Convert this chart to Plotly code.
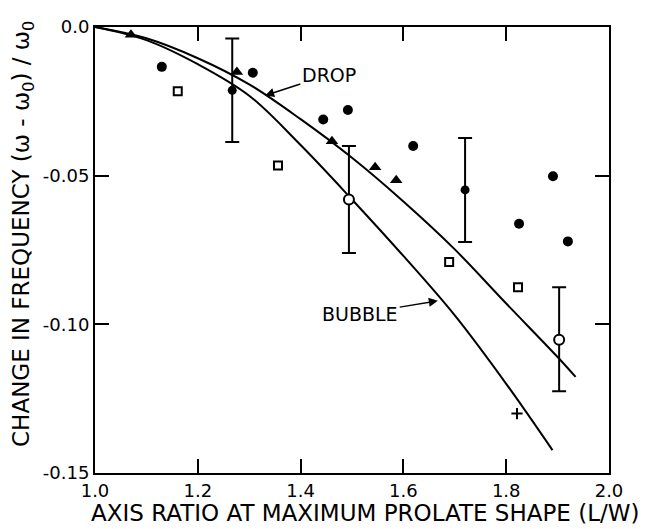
import plotly.graph_objects as go

# Theory curves
drop_x = [1.0, 1.1, 1.2, 1.3, 1.4, 1.5, 1.6, 1.7, 1.8, 1.9, 1.935]
drop_y = [0.0, -0.0038, -0.0105, -0.0193, -0.031, -0.044, -0.0587, -0.0748, -0.093, -0.111, -0.1177]
bubble_x = [1.0, 1.1, 1.2, 1.3, 1.4, 1.5, 1.6, 1.7, 1.8, 1.89]
bubble_y = [0.0, -0.0044, -0.0125, -0.0231, -0.0397, -0.058, -0.077, -0.097, -0.120, -0.1423]

# Data points
tri_x = [1.070, 1.276, 1.461, 1.545, 1.586]
tri_y = [-0.0026, -0.0151, -0.0384, -0.0472, -0.0515]
dot_x = [1.130, 1.307, 1.444, 1.492, 1.619, 1.891, 1.825, 1.920]
dot_y = [-0.0134, -0.0154, -0.0311, -0.0279, -0.040, -0.0502, -0.0662, -0.0721]
dot_err_x = [1.267, 1.720]
dot_err_y = [-0.0213, -0.0548]
dot_err_plus = [0.0174, 0.0175]
dot_err_minus = [0.0174, 0.0175]
sq_x = [1.161, 1.356, 1.689, 1.823]
sq_y = [-0.0216, -0.0466, -0.079, -0.0875]
ocirc_x = [1.494, 1.903]
ocirc_y = [-0.058, -0.1052]
ocirc_plus = [0.018, 0.0177]
ocirc_minus = [0.018, 0.0173]
plus_x = [1.821]
plus_y = [-0.130]

x_ticks = [1.0, 1.2, 1.4, 1.6, 1.8, 2.0]
x_ticklabels = ["1.0", "1.2", "1.4", "1.6", "1.8", "2.0"]
y_ticks = [0.0, -0.05, -0.10, -0.15]
y_ticklabels = ["0.0", "-0.05", "-0.10", "-0.15"]

FONT = "DejaVu Sans"
fig = go.Figure()

fig.add_trace(go.Scatter(x=drop_x, y=drop_y, mode="lines", line=dict(color="black", width=2, shape="spline")))
fig.add_trace(go.Scatter(x=bubble_x, y=bubble_y, mode="lines", line=dict(color="black", width=2, shape="spline")))

fig.add_trace(go.Scatter(x=dot_err_x, y=dot_err_y, mode="markers",
                         marker=dict(symbol="circle", size=9, color="black"),
                         error_y=dict(type="data", symmetric=False, array=dot_err_plus, arrayminus=dot_err_minus,
                                      color="black", thickness=2, width=7)))
fig.add_trace(go.Scatter(x=ocirc_x, y=ocirc_y, mode="markers",
                         marker=dict(symbol="circle", size=10, color="white", line=dict(color="black", width=2)),
                         error_y=dict(type="data", symmetric=False, array=ocirc_plus, arrayminus=ocirc_minus,
                                      color="black", thickness=2, width=7)))
fig.add_trace(go.Scatter(x=tri_x, y=tri_y, mode="markers",
                         marker=dict(symbol="triangle-up", size=11, color="black")))
fig.add_trace(go.Scatter(x=dot_x, y=dot_y, mode="markers",
                         marker=dict(symbol="circle", size=10, color="black")))
fig.add_trace(go.Scatter(x=sq_x, y=sq_y, mode="markers",
                         marker=dict(symbol="square", size=8, color="white", line=dict(color="black", width=2))))
fig.add_trace(go.Scatter(x=plus_x, y=plus_y, mode="markers",
                         marker=dict(symbol="cross-thin", size=8, line=dict(color="black", width=2))))

axis_common = dict(showline=True, linecolor="black", linewidth=2, mirror="ticks",
                   ticks="inside", ticklen=14, tickwidth=2, tickcolor="black",
                   showgrid=False, zeroline=False, ticklabeloverflow="allow",
                   tickfont=dict(family=FONT, size=18, color="black"))

fig.update_xaxes(range=[1.0, 2.0], tickvals=x_ticks, ticktext=x_ticklabels, **axis_common)
fig.update_yaxes(range=[-0.15, 0.0], tickvals=y_ticks, ticktext=y_ticklabels, **axis_common)

fig.add_annotation(x=1.331, y=-0.0230, ax=1.455, ay=-0.0161, axref="x", ayref="y",
                   text="DROP", showarrow=True, arrowhead=2, arrowsize=1.2, arrowwidth=1.5,
                   arrowcolor="black", font=dict(family=FONT, size=19, color="black"))
fig.add_annotation(x=1.667, y=-0.0921, ax=1.516, ay=-0.0964, axref="x", ayref="y",
                   text="BUBBLE", showarrow=True, arrowhead=2, arrowsize=1.2, arrowwidth=1.5,
                   arrowcolor="black", font=dict(family=FONT, size=19, color="black"))

fig.add_annotation(xref="paper", yref="paper", x=0.525, y=0, yanchor="middle", yshift=-40,
                   text="AXIS RATIO AT MAXIMUM PROLATE SHAPE (L/W)", showarrow=False,
                   font=dict(family=FONT, size=23, color="black"))
fig.add_annotation(xref="paper", yref="paper", x=0, y=0.536, xanchor="center", yanchor="middle",
                   xshift=-72, textangle=-90,
                   text="CHANGE IN FREQUENCY (ω - ω<sub>0</sub>) / ω<sub>0</sub>", showarrow=False,
                   font=dict(family=FONT, size=23, color="black"))

# page body has an 8px default margin; size the figure so the plot lands where the reference has it
fig.update_layout(width=647, height=521, showlegend=False,
                  margin=dict(l=87, r=46, t=8, b=56),
                  paper_bgcolor="white", plot_bgcolor="white")

fig.write_html("out.html")
